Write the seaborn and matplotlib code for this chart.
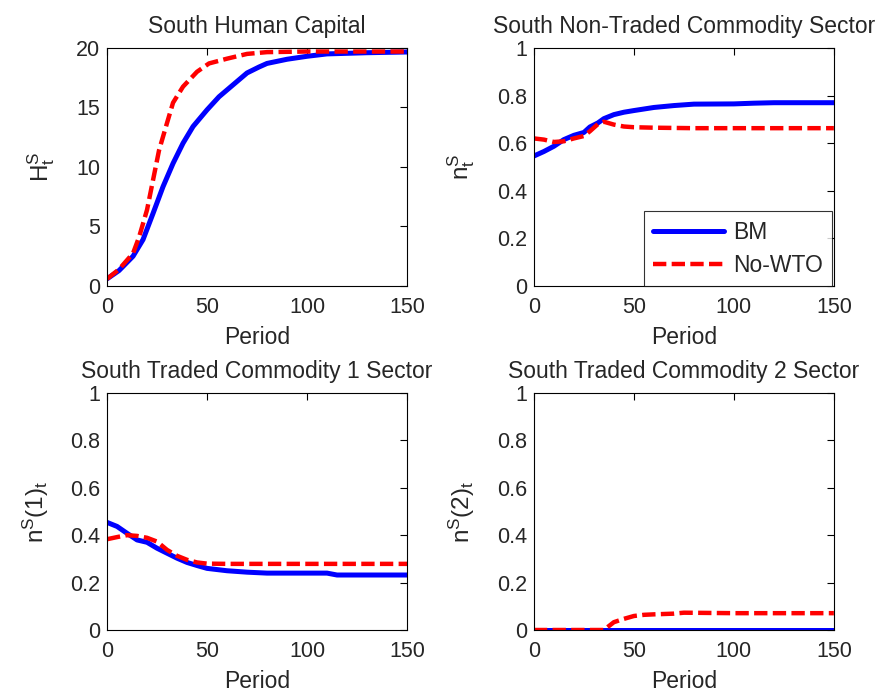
import matplotlib
matplotlib.use("Agg")
import matplotlib.pyplot as plt
import pandas as pd
import seaborn as sns

sns.set_style("white")
plt.rcParams["font.family"] = ["Liberation Sans", "DejaVu Sans"]
plt.rcParams["mathtext.fontset"] = "custom"
plt.rcParams["mathtext.rm"] = "Liberation Sans"
plt.rcParams["mathtext.it"] = "Liberation Sans"

# values
hc_bm_period = [0, 6, 13, 18, 23, 28, 33, 38, 43, 50, 56, 63, 70, 76, 80, 90, 100, 110, 120, 130, 150]
hc_bm = [0.6, 1.3, 2.5, 3.9, 6.1, 8.35, 10.3, 12.0, 13.4, 14.8, 15.9, 16.9, 17.9, 18.4, 18.7,
         19.05, 19.3, 19.5, 19.55, 19.6, 19.66]
hc_nowto_period = [0, 6, 13, 16, 20, 23, 26, 30, 33, 38, 45, 51, 60, 70, 80, 100, 150]
hc_nowto = [0.6, 1.4, 2.75, 4.1, 6.4, 8.9, 11.4, 13.7, 15.4, 16.75, 18.0, 18.7, 19.1, 19.5,
            19.65, 19.7, 19.7]

nt_period = [0, 5, 10, 15, 20, 25, 28, 32, 35, 40, 45, 50, 60, 70, 80, 100, 110, 120, 150]
nt_bm = [0.546, 0.565, 0.587, 0.615, 0.633, 0.645, 0.668, 0.685, 0.703, 0.72, 0.73, 0.737, 0.75,
         0.758, 0.764, 0.765, 0.768, 0.77, 0.77]
nt_nowto = [0.62, 0.615, 0.605, 0.608, 0.62, 0.63, 0.65, 0.68, 0.69, 0.678, 0.67, 0.667, 0.665,
            0.664, 0.663, 0.663, 0.663, 0.663, 0.663]

t1_period = [0, 5, 10, 15, 20, 25, 30, 35, 40, 45, 50, 60, 70, 80, 110, 115, 150]
t1_bm = [0.454, 0.437, 0.408, 0.38, 0.37, 0.345, 0.324, 0.303, 0.285, 0.272, 0.26, 0.25, 0.244,
         0.24, 0.24, 0.232, 0.232]
t1_nowto = [0.383, 0.392, 0.4, 0.397, 0.389, 0.373, 0.338, 0.313, 0.296, 0.285, 0.28, 0.279,
            0.279, 0.279, 0.279, 0.279, 0.279]

t2_period = [0, 10, 20, 30, 35, 40, 45, 50, 55, 60, 70, 75, 100, 150]
t2_bm = [0, 0, 0, 0, 0, 0, 0, 0, 0, 0, 0, 0, 0, 0]
t2_nowto = [0, 0, 0, 0, 0, 0.033, 0.047, 0.059, 0.064, 0.066, 0.069, 0.073, 0.071, 0.071]

share_ticks = [0, 0.2, 0.4, 0.6, 0.8, 1]
panels = [
    ("South Human Capital", r"$\mathregular{H^S_t}$",
     (hc_bm_period, hc_bm), (hc_nowto_period, hc_nowto), 20, [0, 5, 10, 15, 20]),
    ("South Non-Traded Commodity Sector", r"$\mathregular{n^S_t}$",
     (nt_period, nt_bm), (nt_period, nt_nowto), 1, share_ticks),
    ("South Traded Commodity 1 Sector", r"$\mathregular{n^S(1)_t}$",
     (t1_period, t1_bm), (t1_period, t1_nowto), 1, share_ticks),
    ("South Traded Commodity 2 Sector", r"$\mathregular{n^S(2)_t}$",
     (t2_period, t2_bm), (t2_period, t2_nowto), 1, share_ticks),
]

positions = [
    [0.1215, 0.5867, 0.3405, 0.344],
    [0.606, 0.5867, 0.3405, 0.344],
    [0.1215, 0.0896, 0.3405, 0.3425],
    [0.606, 0.0896, 0.3405, 0.3425],
]

fig = plt.figure(figsize=(8.81, 6.92), dpi=100)

for i, (title, ylab, bm, nowto, ymax, yticks) in enumerate(panels):
    ax = fig.add_axes(positions[i])
    df_bm = pd.DataFrame({"Period": bm[0], "value": bm[1]})
    df_no = pd.DataFrame({"Period": nowto[0], "value": nowto[1]})
    sns.lineplot(data=df_bm, x="Period", y="value", ax=ax, color="#0000ff", linewidth=3.6,
                 label="BM")
    sns.lineplot(data=df_no, x="Period", y="value", ax=ax, color="#ff0000", linewidth=3.2,
                 linestyle=(0, (3.0, 1.2)), label="No-WTO")
    ax.set_xlim(0, 150)
    ax.set_ylim(0, ymax)
    ax.set_xticks([0, 50, 100, 150])
    ax.set_yticks(yticks)
    ax.set_yticklabels([f"{v:g}" for v in yticks])
    ax.tick_params(direction="in", length=5, width=0.8, top=True, right=True,
                   labelsize=15.5, color="black")
    ax.tick_params(axis="x", pad=8)
    ax.tick_params(axis="y", pad=5)
    for s in ax.spines.values():
        s.set_color("black")
        s.set_linewidth(0.8)
    ax.set_title(title, fontsize=16.5, pad=11)
    ax.set_xlabel("Period", fontsize=16.5, labelpad=6)
    ax.set_ylabel(ylab, fontsize=17.5, labelpad=14)
    if i == 1:
        leg = ax.legend(loc="lower right", fontsize=16.5, frameon=True, fancybox=False,
                        handlelength=3.1, borderpad=0.4, labelspacing=0.45,
                        handletextpad=0.4, borderaxespad=0,
                        bbox_to_anchor=(0.994, 0.0))
        leg.get_frame().set_edgecolor("black")
        leg.get_frame().set_linewidth(0.8)
    else:
        ax.get_legend().remove()

fig.savefig("out.png", dpi=100, facecolor="white")
